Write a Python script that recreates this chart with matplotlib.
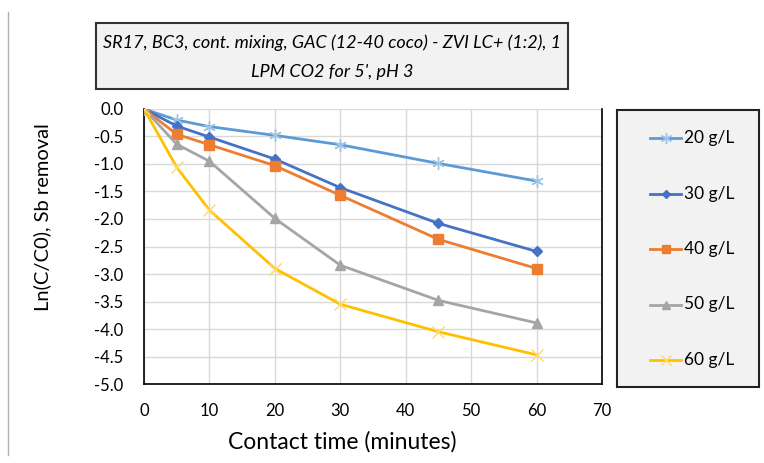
import matplotlib.pyplot as plt
from matplotlib.patches import Rectangle
from matplotlib.lines import Line2D

plt.rcParams['font.family'] = ['Lato', 'DejaVu Sans']

# contact time (minutes) and ln(C/C0) for each dose
time_min = [0, 5, 10, 20, 30, 45, 60]
dose_labels = ["20 g/L", "30 g/L", "40 g/L", "50 g/L", "60 g/L"]
ln_20 = [0, -0.20, -0.32, -0.48, -0.65, -0.99, -1.31]
ln_30 = [0, -0.31, -0.51, -0.91, -1.43, -2.08, -2.59]
ln_40 = [0, -0.46, -0.65, -1.03, -1.57, -2.37, -2.90]
ln_50 = [0, -0.64, -0.95, -1.99, -2.84, -3.48, -3.89]
ln_60 = [0, -1.06, -1.84, -2.90, -3.55, -4.05, -4.47]

series = [ln_20, ln_30, ln_40, ln_50, ln_60]
styles = [
    dict(color="#5b9bd5", marker=(6, 2, 0), ms=9, mec="#9dc3e6", mfc="#9dc3e6", mew=1.0),
    dict(color="#4472c4", marker="D", ms=5, mec="#4472c4", mfc="#4472c4"),
    dict(color="#ed7d31", marker="s", ms=7, mec="#ed7d31", mfc="#ed7d31"),
    dict(color="#a5a5a5", marker="^", ms=7, mec="#a5a5a5", mfc="#a5a5a5"),
    dict(color="#ffc000", marker="x", ms=8, mec="#ffd966", mfc="#ffd966", mew=1.0),
]

fig = plt.figure(figsize=(7.64, 4.63), dpi=100)
ax = fig.add_axes([0.1885, 0.1706, 0.5995, 0.594])

for y, st in zip(series, styles):
    ax.plot(time_min, y, lw=2, zorder=3, **st)

ax.set_xlim(0, 70)
ax.set_ylim(-5, 0)
ax.set_xticks(range(0, 71, 10))
ax.set_yticks([-5 + 0.5 * i for i in range(11)])
ax.set_yticklabels([f"{-5 + 0.5 * i:.1f}" for i in range(11)])
ax.grid(True, color="#d9d9d9", lw=1)
ax.set_axisbelow(True)
ax.tick_params(length=0, labelsize=12, pad=15)
ax.tick_params(axis="x", pad=14)
for s in ["left", "bottom", "right"]:
    ax.spines[s].set_color("black")
    ax.spines[s].set_linewidth(1.2)
ax.spines["top"].set_visible(False)

# axis titles
fig.text(342 / 764, 1 - 442 / 463, "Contact time (minutes)", ha="center", va="center",
         fontsize=16.5)
fig.text(42 / 764, 1 - 217 / 463, "Ln(C/C0), Sb removal", ha="center", va="center",
         fontsize=14.5, rotation=90)

# title box
fig.patches.append(Rectangle((96 / 764, 1 - 89 / 463), 472 / 764, 66 / 463,
                             transform=fig.transFigure, facecolor="#f2f2f2",
                             edgecolor="#333333", lw=1.5))
fig.text(332 / 764, 1 - 43 / 463, "SR17, BC3, cont. mixing, GAC (12-40 coco) - ZVI LC+ (1:2), 1",
         ha="center", va="center", fontsize=13.0, style="italic")
fig.text(332 / 764, 1 - 72 / 463, "LPM CO2 for 5', pH 3",
         ha="center", va="center", fontsize=13.0, style="italic")

# legend box
fig.patches.append(Rectangle((617 / 764, 1 - 387 / 463), 142 / 764, 277 / 463,
                             transform=fig.transFigure, facecolor="#f2f2f2",
                             edgecolor="#222222", lw=1.5))
for i, (lab, st) in enumerate(zip(dose_labels, styles)):
    yy = 1 - (138 + 55.5 * i) / 463
    fig.add_artist(Line2D([650 / 764, 665.5 / 764, 681 / 764], [yy, yy, yy],
                          transform=fig.transFigure, lw=2, markevery=[1], zorder=3,
                          **{**st, "ms": st["ms"] * 0.9}))
    fig.text(684 / 764, yy, lab, ha="left", va="center", fontsize=12.5)

# thin rule down the left edge
fig.add_artist(Line2D([8 / 764, 8 / 764], [1 - 12 / 463, 1 - 455 / 463],
                      transform=fig.transFigure, color="#b0b0b0", lw=1))

fig.savefig("out.png", dpi=100)
